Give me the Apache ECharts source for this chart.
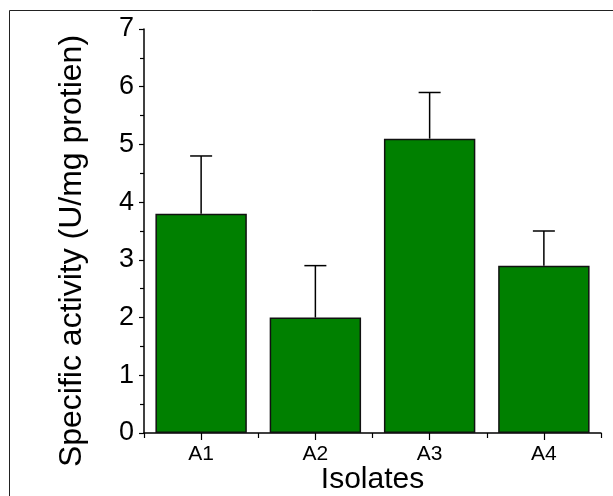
<html>
<head>
  <script type="text/javascript" src="https://cdn.jsdelivr.net/npm/echarts@6/dist/echarts.min.js"></script>
</head>
<body style="margin:0">
  <div id="main" style="width: 613px;height:496px;"></div>
</body>
<script type="text/javascript">
  // data
  var isolates = ['A1', 'A2', 'A3', 'A4'];
  var activity = [3.8, 2.0, 5.1, 2.9];
  var errTop = [4.8, 2.9, 5.9, 3.5];   // upper end of error bar
  var yTicks = [0, 1, 2, 3, 4, 5, 6, 7];

  var font = 'Liberation Sans, Arial, sans-serif';
  var myChart = echarts.init(document.getElementById('main'));

  myChart.setOption({
    animation: false,
    backgroundColor: '#fff',
    textStyle: { fontFamily: font },
    graphic: [{
      type: 'rect',
      shape: { x: 9.5, y: 10.5, width: 700, height: 600 },
      style: { fill: null, stroke: '#222', lineWidth: 1 },
      silent: true
    }],
    grid: { left: 144, right: 12, top: 29, bottom: 63, outerBoundsMode: 'none' },
    xAxis: [{
      type: 'category',
      data: isolates,
      name: 'Isolates',
      nameLocation: 'middle',
      nameGap: 21,
      nameMoveOverlap: false,
      nameTextStyle: { fontSize: 30, color: '#000', fontFamily: font },
      axisLine: { lineStyle: { color: '#000', width: 1.5 } },
      axisTick: { show: true, length: 5, lineStyle: { color: '#000', width: 1.2 } },
      axisLabel: { fontSize: 21, color: '#000', margin: 3, fontFamily: font }
    }, {
      type: 'category',
      data: isolates,
      position: 'bottom',
      axisLine: { show: false },
      axisTick: { show: true, alignWithLabel: true, length: 7, lineStyle: { color: '#000', width: 1.2 } },
      axisLabel: { show: false }
    }],
    yAxis: {
      type: 'value',
      min: 0,
      max: yTicks[yTicks.length - 1],
      interval: 1,
      name: 'Specific activity (U/mg protien)',
      nameLocation: 'middle',
      nameGap: 44,
      nameMoveOverlap: false,
      nameTextStyle: { fontSize: 32, color: '#000', fontFamily: font, padding: [0, 40, 0, 0] },
      axisLine: { show: true, lineStyle: { color: '#000', width: 1.5 } },
      axisTick: { show: true, length: 5, lineStyle: { color: '#000', width: 1.2 } },
      minorTick: { show: true, splitNumber: 2, length: 4, lineStyle: { color: '#000', width: 1.2 } },
      splitLine: { show: false },
      axisLabel: { fontSize: 27, color: '#000', margin: 10, fontFamily: font }
    },
    series: [{
      type: 'bar',
      data: activity,
      barWidth: '80%',
      itemStyle: { color: '#008000', borderColor: '#111', borderWidth: 1.5 }
    }, {
      type: 'custom',
      data: isolates.map(function (c, i) { return [i, activity[i], errTop[i]]; }),
      renderItem: function (params, api) {
        var base = api.coord([api.value(0), api.value(1)]);
        var top = api.coord([api.value(0), api.value(2)]);
        var half = 11;
        var st = { stroke: '#000', lineWidth: 1.5 };
        return {
          type: 'group',
          children: [
            { type: 'line', shape: { x1: base[0], y1: base[1], x2: top[0], y2: top[1] }, style: st },
            { type: 'line', shape: { x1: top[0] - half, y1: top[1], x2: top[0] + half, y2: top[1] }, style: st }
          ]
        };
      },
      z: 1
    }]
  });
</script>
</html>
